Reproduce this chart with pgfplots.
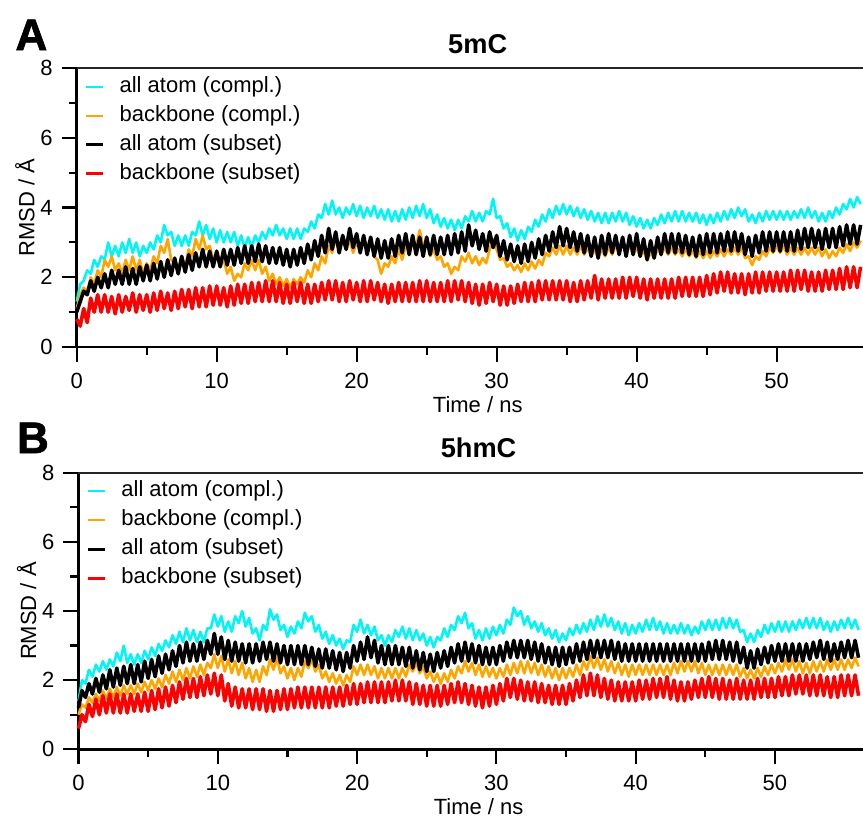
\documentclass[border=0pt]{standalone}
\usepackage{fontspec}
\setmainfont{Liberation Sans}
\newfontfamily\heavyfont{Liberation Sans Bold}[FakeBold=1.6]
\usepackage{pgfplots}
\usepackage{pgfplotstable}
\pgfplotsset{compat=1.18}

\definecolor{cyanc}{RGB}{0,245,245}
\definecolor{orangec}{RGB}{255,165,0}
\definecolor{redc}{RGB}{255,0,0}

% columns: t = time (ns), c = all atom (compl.), o = backbone (compl.),
% k = all atom (subset), r = backbone (subset)
\pgfplotstableread{
t c o k r
0 1.3 1.1 1.0 0.8
0.25 1.8 1.5 1.3 0.6
0.5 1.9 1.7 1.6 1.1
0.75 2.2 1.6 1.5 0.7
1 2.1 2.0 1.9 1.4
1.25 2.5 1.8 1.6 1.0
1.5 2.3 2.2 2.0 1.5
1.75 2.6 2.0 1.7 1.0
2 2.5 2.5 2.1 1.5
2.25 3.0 2.3 1.7 1.0
2.5 2.6 2.6 2.2 1.45
2.75 2.9 2.2 1.8 0.95
3 2.6 2.4 2.2 1.5
3.25 3.0 2.1 1.8 1.0
3.5 2.7 2.5 2.3 1.45
3.75 3.1 2.2 1.8 1.05
4 2.7 2.6 2.25 1.55
4.25 3.0 2.2 1.8 1.0
4.5 2.6 2.5 2.3 1.5
4.75 2.9 2.1 1.9 1.05
5 2.7 2.4 2.35 1.5
5.25 3.0 2.2 1.9 1.0
5.5 2.8 2.6 2.4 1.55
5.75 3.2 2.4 1.95 1.05
6 3.0 2.9 2.45 1.6
6.25 3.5 2.7 2.0 1.1
6.5 3.2 3.1 2.5 1.55
6.75 3.3 2.5 2.05 1.05
7 2.9 2.4 2.55 1.6
7.25 3.2 2.1 2.1 1.1
7.5 2.9 2.6 2.6 1.65
7.75 3.2 2.3 2.15 1.15
8 2.9 2.8 2.65 1.65
8.25 3.3 2.6 2.2 1.1
8.5 3.2 3.1 2.7 1.7
8.75 3.6 2.8 2.3 1.15
9 3.2 3.2 2.8 1.7
9.25 3.5 2.8 2.3 1.15
9.5 3.1 2.9 2.75 1.75
9.75 3.4 2.5 2.3 1.2
10 3.0 2.7 2.75 1.75
10.25 3.35 2.3 2.3 1.2
10.5 3.0 2.5 2.8 1.7
10.75 3.3 2.1 2.35 1.15
11 3.0 2.3 2.8 1.75
11.25 3.3 1.9 2.35 1.2
11.5 2.9 2.1 2.85 1.8
11.75 3.2 2.0 2.4 1.25
12 2.85 2.4 2.9 1.8
12.25 3.15 2.2 2.4 1.25
12.5 2.85 2.5 2.9 1.85
12.75 3.2 2.2 2.45 1.3
13 3.0 2.5 2.95 1.85
13.25 3.3 2.1 2.45 1.3
13.5 3.1 2.3 2.9 1.9
13.75 3.4 1.9 2.4 1.3
14 3.2 2.1 2.85 1.9
14.25 3.5 1.8 2.4 1.3
14.5 3.2 2.0 2.85 1.85
14.75 3.4 1.75 2.35 1.25
15 3.1 1.95 2.8 1.8
15.25 3.4 1.7 2.3 1.25
15.5 3.1 1.95 2.8 1.85
15.75 3.4 1.8 2.35 1.3
16 3.1 2.0 2.85 1.85
16.25 3.4 1.85 2.4 1.25
16.5 3.3 2.2 2.95 1.8
16.75 3.6 2.0 2.5 1.25
17 3.4 2.4 3.05 1.8
17.25 3.8 2.2 2.6 1.3
17.5 3.7 2.6 3.2 1.85
17.75 4.1 2.4 2.7 1.35
18 3.8 2.9 3.4 1.9
18.25 4.2 2.7 2.8 1.35
18.5 3.8 3.1 3.3 1.9
18.75 4.0 2.8 2.7 1.3
19 3.7 3.0 3.2 1.85
19.25 4.0 2.8 2.8 1.3
19.5 3.8 3.05 3.4 1.9
19.75 4.1 2.7 2.85 1.35
20 3.75 3.0 3.25 1.85
20.25 4.05 2.75 2.7 1.3
20.5 3.7 3.1 3.2 1.9
20.75 4.0 2.9 2.65 1.3
21 3.75 3.1 3.15 1.9
21.25 4.05 2.6 2.6 1.35
21.5 3.7 2.5 3.1 1.85
21.75 3.95 2.1 2.55 1.3
22 3.65 2.4 3.05 1.8
22.25 3.95 2.3 2.55 1.25
22.5 3.6 2.6 3.1 1.8
22.75 3.9 2.4 2.6 1.3
23 3.6 2.8 3.2 1.85
23.25 3.95 2.5 2.7 1.3
23.5 3.65 2.9 3.25 1.85
23.75 4.0 2.7 2.65 1.3
24 3.7 3.1 3.2 1.85
24.25 4.05 2.9 2.65 1.3
24.5 3.75 3.35 3.15 1.9
24.75 4.1 2.9 2.6 1.3
25 3.7 3.0 3.15 1.9
25.25 3.95 2.6 2.65 1.3
25.5 3.55 2.8 3.2 1.85
25.75 3.8 2.5 2.65 1.3
26 3.45 2.6 3.15 1.85
26.25 3.7 2.3 2.65 1.3
26.5 3.4 2.4 3.2 1.9
26.75 3.65 2.1 2.65 1.3
27 3.35 2.3 3.25 1.9
27.25 3.65 2.2 2.7 1.35
27.5 3.4 2.6 3.3 1.9
27.75 3.75 2.45 2.75 1.3
28 3.6 2.7 3.5 1.85
28.25 3.9 2.4 2.9 1.25
28.5 3.6 2.6 3.35 1.8
28.75 3.85 2.35 2.8 1.2
29 3.6 2.55 3.25 1.8
29.25 3.9 2.4 2.75 1.25
29.5 3.8 2.8 3.3 1.85
29.75 4.25 3.1 2.85 1.3
30 3.7 2.8 3.2 1.8
30.25 3.75 2.5 2.6 1.2
30.5 3.4 2.55 3.05 1.75
30.75 3.55 2.3 2.5 1.2
31 3.15 2.4 2.95 1.75
31.25 3.4 2.2 2.45 1.25
31.5 3.05 2.35 2.9 1.8
31.75 3.35 2.15 2.4 1.3
32 3.1 2.4 2.95 1.85
32.25 3.45 2.2 2.45 1.3
32.5 3.3 2.45 3.0 1.85
32.75 3.65 2.25 2.55 1.3
33 3.45 2.5 3.1 1.9
33.25 3.8 2.35 2.65 1.35
33.5 3.6 2.7 3.2 1.9
33.75 3.95 2.6 2.75 1.35
34 3.7 2.85 3.3 1.9
34.25 4.05 2.65 2.85 1.35
34.5 3.8 2.9 3.45 1.9
34.75 4.1 2.65 2.9 1.35
35 3.8 2.9 3.4 1.9
35.25 4.05 2.65 2.85 1.3
35.5 3.75 2.85 3.3 1.85
35.75 4.0 2.65 2.75 1.3
36 3.7 2.9 3.25 1.9
36.25 3.95 2.65 2.7 1.35
36.5 3.65 2.85 3.2 1.9
36.75 3.9 2.6 2.6 1.4
37 3.6 2.8 3.15 2.05
37.25 3.85 2.55 2.55 1.35
37.5 3.55 2.8 3.2 1.95
37.75 3.85 2.6 2.65 1.4
38 3.55 2.85 3.25 1.95
38.25 3.85 2.65 2.7 1.4
38.5 3.6 2.9 3.2 1.95
38.75 3.9 2.7 2.65 1.4
39 3.6 2.95 3.15 2.0
39.25 3.85 2.7 2.6 1.4
39.5 3.5 2.9 3.2 2.0
39.75 3.75 2.65 2.65 1.45
40 3.45 2.85 3.25 2.0
40.25 3.7 2.6 2.6 1.4
40.5 3.4 2.75 3.1 1.95
40.75 3.65 2.5 2.5 1.35
41 3.4 2.7 3.05 1.95
41.25 3.7 2.55 2.55 1.4
41.5 3.5 2.8 3.15 1.95
41.75 3.8 2.65 2.65 1.4
42 3.55 2.85 3.25 1.95
42.25 3.85 2.65 2.7 1.4
42.5 3.6 2.85 3.25 1.95
42.75 3.9 2.65 2.7 1.4
43 3.6 2.8 3.25 2.0
43.25 3.9 2.6 2.7 1.45
43.5 3.6 2.8 3.2 2.0
43.75 3.85 2.6 2.65 1.45
44 3.6 2.75 3.15 2.0
44.25 3.85 2.55 2.6 1.45
44.5 3.55 2.75 3.2 2.0
44.75 3.8 2.55 2.65 1.45
45 3.5 2.75 3.25 2.05
45.25 3.8 2.55 2.7 1.5
45.5 3.55 2.75 3.25 2.1
45.75 3.85 2.6 2.7 1.55
46 3.6 2.8 3.25 2.15
46.25 3.9 2.6 2.75 1.6
46.5 3.65 2.8 3.3 2.15
46.75 3.95 2.65 2.75 1.55
47 3.7 2.85 3.3 2.1
47.25 4.0 2.65 2.75 1.55
47.5 3.75 2.85 3.25 2.1
47.75 3.95 2.55 2.65 1.5
48 3.6 2.6 3.15 2.1
48.25 3.8 2.35 2.6 1.55
48.5 3.55 2.6 3.2 2.15
48.75 3.85 2.5 2.7 1.55
49 3.6 2.75 3.3 2.15
49.25 3.9 2.6 2.75 1.6
49.5 3.65 2.85 3.3 2.15
49.75 3.9 2.7 2.75 1.6
50 3.65 2.9 3.3 2.15
50.25 3.9 2.7 2.75 1.6
50.5 3.65 2.9 3.3 2.15
50.75 3.9 2.65 2.75 1.6
51 3.65 2.85 3.3 2.2
51.25 3.9 2.65 2.75 1.6
51.5 3.7 2.85 3.35 2.2
51.75 3.95 2.65 2.8 1.65
52 3.7 2.85 3.4 2.2
52.25 4.0 2.65 2.85 1.6
52.5 3.7 2.85 3.4 2.15
52.75 3.9 2.65 2.85 1.6
53 3.6 2.85 3.35 2.15
53.25 3.85 2.6 2.8 1.6
53.5 3.6 2.8 3.4 2.2
53.75 3.9 2.55 2.85 1.65
54 3.7 2.75 3.4 2.2
54.25 4.0 2.6 2.85 1.65
54.5 3.8 2.85 3.45 2.25
54.75 4.1 2.7 2.9 1.65
55 3.95 2.95 3.5 2.3
55.25 4.25 2.75 2.95 1.7
55.5 4.0 3.0 3.5 2.3
55.75 4.3 2.85 2.95 1.7
56 4.1 3.05 3.5 2.3
}\rmsdA

\pgfplotstableread{
t c o k r
0 1.4 1.0 1.2 0.6
0.25 2.0 1.3 1.7 1.0
0.5 1.9 1.2 1.5 0.8
0.75 2.3 1.5 1.9 1.3
1 2.1 1.35 1.6 0.95
1.25 2.45 1.6 2.05 1.45
1.5 2.25 1.4 1.65 1.0
1.75 2.55 1.7 2.15 1.55
2 2.3 1.45 1.75 1.05
2.25 2.6 1.75 2.3 1.6
2.5 2.4 1.5 1.8 1.05
2.75 2.8 1.8 2.35 1.6
3 2.55 1.55 1.85 1.05
3.25 3.0 1.85 2.4 1.6
3.5 2.5 1.6 1.9 1.05
3.75 2.75 1.85 2.45 1.6
4 2.45 1.6 1.9 1.1
4.25 2.75 1.9 2.45 1.6
4.5 2.5 1.65 1.95 1.1
4.75 2.85 1.95 2.55 1.65
5 2.6 1.7 2.05 1.1
5.25 2.95 2.0 2.6 1.7
5.5 2.7 1.75 2.1 1.15
5.75 3.05 2.05 2.7 1.75
6 2.85 1.8 2.2 1.2
6.25 3.15 2.15 2.75 1.8
6.5 2.95 1.9 2.3 1.25
6.75 3.3 2.25 2.85 1.85
7 3.05 1.95 2.4 1.35
7.25 3.4 2.3 3.0 1.95
7.5 3.1 2.0 2.5 1.45
7.75 3.5 2.35 3.1 2.05
8 3.15 2.05 2.55 1.5
8.25 3.45 2.4 3.05 2.05
8.5 3.1 2.1 2.55 1.5
8.75 3.4 2.45 3.1 2.1
9 3.1 2.15 2.6 1.55
9.25 3.5 2.5 3.15 2.15
9.5 3.5 2.35 2.75 1.6
9.75 3.9 2.75 3.35 2.2
10 3.55 2.35 2.75 1.55
10.25 3.85 2.7 3.25 2.15
10.5 3.4 2.25 2.6 1.4
10.75 3.7 2.6 3.15 1.9
11 3.4 2.2 2.55 1.25
11.25 3.85 2.55 3.1 1.8
11.5 3.65 2.15 2.55 1.2
11.75 4.0 2.5 3.05 1.75
12 3.55 2.05 2.5 1.2
12.25 3.8 2.35 3.05 1.75
12.5 3.35 1.95 2.5 1.15
12.75 3.5 2.3 3.05 1.75
13 3.15 1.95 2.55 1.15
13.25 3.6 2.4 3.1 1.75
13.5 3.45 2.15 2.6 1.1
13.75 4.05 2.6 3.1 1.7
14 3.75 2.3 2.55 1.1
14.25 3.9 2.65 3.05 1.7
14.5 3.45 2.2 2.5 1.15
14.75 3.6 2.4 3.0 1.75
15 3.25 2.05 2.45 1.15
15.25 3.55 2.35 3.0 1.75
15.5 3.35 2.0 2.45 1.2
15.75 3.7 2.35 3.0 1.8
16 3.5 2.1 2.45 1.2
16.25 3.95 2.55 3.0 1.8
16.5 3.7 2.35 2.45 1.2
16.75 3.85 2.6 2.95 1.8
17 3.4 2.25 2.4 1.2
17.25 3.6 2.45 2.9 1.8
17.5 3.2 2.05 2.35 1.2
17.75 3.4 2.25 2.9 1.8
18 3.05 1.95 2.35 1.2
18.25 3.3 2.2 2.85 1.8
18.5 3.0 1.9 2.3 1.25
18.75 3.2 2.15 2.8 1.8
19 2.9 1.85 2.25 1.25
19.25 3.15 2.15 2.8 1.85
19.5 3.1 1.95 2.35 1.3
19.75 3.6 2.4 3.0 1.9
20 3.4 2.15 2.55 1.3
20.25 3.75 2.45 3.1 1.9
20.5 3.35 2.15 2.6 1.35
20.75 3.6 2.45 3.25 1.95
21 3.3 2.15 2.65 1.35
21.25 3.55 2.4 3.15 1.95
21.5 3.15 2.05 2.5 1.35
21.75 3.3 2.35 3.0 1.95
22 3.0 2.05 2.45 1.35
22.25 3.3 2.35 3.0 1.95
22.5 3.1 2.05 2.45 1.4
22.75 3.45 2.35 3.0 2.0
23 3.25 2.05 2.45 1.4
23.25 3.55 2.35 2.95 2.0
23.5 3.2 2.1 2.4 1.4
23.75 3.5 2.45 2.95 1.95
24 3.15 2.25 2.35 1.3
24.25 3.45 2.5 2.85 1.9
24.5 3.15 2.2 2.3 1.3
24.75 3.35 2.4 2.8 1.85
25 3.0 2.05 2.25 1.25
25.25 3.25 2.25 2.75 1.85
25.5 2.95 1.95 2.25 1.25
25.75 3.25 2.2 2.8 1.85
26 3.15 1.9 2.35 1.25
26.25 3.5 2.2 2.85 1.85
26.5 3.25 1.95 2.4 1.3
26.75 3.6 2.3 2.95 1.9
27 3.45 2.05 2.5 1.35
27.25 3.85 2.4 3.05 1.95
27.5 3.65 2.2 2.55 1.35
27.75 3.95 2.55 3.1 1.9
28 3.5 2.25 2.55 1.3
28.25 3.65 2.5 3.05 1.85
28.5 3.2 2.15 2.5 1.25
28.75 3.45 2.45 3.0 1.8
29 3.15 2.1 2.45 1.2
29.25 3.5 2.4 2.95 1.8
29.5 3.2 2.1 2.45 1.25
29.75 3.55 2.35 2.95 1.85
30 3.3 2.05 2.45 1.3
30.25 3.6 2.35 3.0 1.9
30.5 3.35 2.1 2.55 1.4
30.75 3.75 2.45 3.1 2.05
31 3.6 2.15 2.65 1.5
31.25 4.1 2.5 3.15 2.05
31.5 3.85 2.2 2.65 1.45
31.75 4.0 2.55 3.15 2.0
32 3.6 2.2 2.65 1.4
32.25 3.85 2.55 3.15 1.95
32.5 3.5 2.2 2.6 1.4
32.75 3.7 2.5 3.1 1.95
33 3.4 2.15 2.55 1.35
33.25 3.65 2.45 3.05 1.9
33.5 3.3 2.1 2.5 1.35
33.75 3.5 2.4 2.95 1.85
34 3.2 2.05 2.45 1.3
34.25 3.45 2.35 2.95 1.85
34.5 3.1 2.0 2.4 1.3
34.75 3.35 2.35 2.95 1.85
35 3.15 2.05 2.45 1.3
35.25 3.5 2.35 2.95 1.9
35.5 3.3 2.1 2.5 1.4
35.75 3.6 2.45 3.05 2.0
36 3.35 2.15 2.55 1.5
36.25 3.65 2.55 3.1 2.15
36.5 3.4 2.3 2.6 1.55
36.75 3.75 2.7 3.15 2.2
37 3.45 2.35 2.65 1.55
37.25 3.85 2.65 3.15 2.15
37.5 3.55 2.3 2.65 1.5
37.75 3.9 2.6 3.15 2.05
38 3.55 2.25 2.65 1.45
38.25 3.8 2.55 3.15 2.0
38.5 3.45 2.2 2.6 1.4
38.75 3.7 2.5 3.1 1.95
39 3.35 2.15 2.55 1.4
39.25 3.65 2.45 3.05 1.95
39.5 3.3 2.1 2.55 1.4
39.75 3.6 2.45 3.05 1.95
40 3.35 2.15 2.55 1.4
40.25 3.65 2.45 3.05 2.0
40.5 3.4 2.15 2.55 1.45
40.75 3.75 2.45 3.05 2.0
41 3.45 2.15 2.55 1.45
41.25 3.8 2.45 3.05 2.05
41.5 3.45 2.15 2.55 1.5
41.75 3.7 2.45 3.05 2.05
42 3.35 2.15 2.55 1.5
42.25 3.65 2.45 3.05 2.1
42.5 3.35 2.15 2.55 1.45
42.75 3.6 2.5 3.05 2.0
43 3.35 2.2 2.55 1.4
43.25 3.65 2.55 3.05 1.95
43.5 3.35 2.25 2.55 1.4
43.75 3.6 2.55 3.05 1.95
44 3.3 2.25 2.55 1.45
44.25 3.55 2.55 3.05 2.0
44.5 3.35 2.2 2.55 1.5
44.75 3.7 2.5 3.05 2.05
45 3.45 2.15 2.55 1.5
45.25 3.75 2.45 3.1 2.1
45.5 3.45 2.15 2.6 1.5
45.75 3.75 2.45 3.15 2.05
46 3.45 2.15 2.6 1.45
46.25 3.8 2.45 3.15 2.05
46.5 3.5 2.15 2.6 1.45
46.75 3.8 2.45 3.1 2.0
47 3.5 2.15 2.55 1.45
47.25 3.75 2.45 3.1 2.05
47.5 3.4 2.1 2.5 1.45
47.75 3.45 2.35 2.95 2.0
48 3.1 2.05 2.35 1.45
48.25 3.35 2.3 2.85 2.0
48.5 3.1 2.05 2.35 1.45
48.75 3.45 2.35 2.9 2.05
49 3.25 2.1 2.45 1.5
49.25 3.6 2.4 2.95 2.05
49.5 3.35 2.15 2.5 1.5
49.75 3.65 2.45 3.0 2.05
50 3.4 2.2 2.55 1.5
50.25 3.7 2.5 3.05 2.1
50.5 3.4 2.25 2.55 1.55
50.75 3.7 2.6 3.05 2.1
51 3.4 2.3 2.55 1.55
51.25 3.7 2.6 3.05 2.15
51.5 3.45 2.25 2.55 1.6
51.75 3.75 2.55 3.05 2.15
52 3.5 2.2 2.55 1.6
52.25 3.8 2.5 3.05 2.15
52.5 3.5 2.2 2.6 1.55
52.75 3.8 2.55 3.1 2.15
53 3.5 2.25 2.65 1.55
53.25 3.8 2.55 3.15 2.15
53.5 3.45 2.25 2.6 1.55
53.75 3.7 2.6 3.1 2.1
54 3.4 2.3 2.55 1.5
54.25 3.7 2.6 3.05 2.1
54.5 3.45 2.3 2.6 1.5
54.75 3.75 2.6 3.1 2.15
55 3.5 2.3 2.65 1.55
55.25 3.8 2.6 3.15 2.15
55.5 3.5 2.35 2.65 1.55
55.75 3.75 2.65 3.15 2.15
56 3.45 2.4 2.65 1.55
}\rmsdB

\pgfplotsset{
  rmsd/.style={
    scale only axis,
    ymin=0, ymax=8, xmin=0,
    clip=false,
    axis lines*=left,
    axis line style={-, line width=1.4pt},
    tick align=outside,
    tick pos=left,
    xtick={0,10,...,50},
    ytick={0,2,4,6,8},
    minor tick num=1,
    major tick length=7.5pt,
    minor tick length=4pt,
    every tick/.append style={line width=1.1pt, black},
    /pgf/number format/assume math mode=true,
    tick label style={font=\fontsize{11}{13}\selectfont},
    xticklabel style={yshift=-2pt},
    yticklabel style={xshift=-1pt},
    label style={font=\fontsize{11}{13}\selectfont},
    xlabel={Time / ns},
    ylabel={RMSD / Å},
    xlabel style={at={([yshift=-32.5pt]axis description cs:0.51,0)}, anchor=base},
    ylabel style={at={([xshift=-25.9pt]axis description cs:0,0.5)}, anchor=center},
    every axis title shift=0pt,
    title style={at={([yshift=7.5pt]axis description cs:0.51,1)}, anchor=base,
      font=\fontsize{13.6}{16}\selectfont\bfseries},
    legend style={draw=none, fill=none,
      at={([xshift=4.15pt,yshift=-4.1pt]axis description cs:0,1)},
      anchor=north west, inner sep=0pt, outer sep=0pt,
      row sep=4.1pt, column sep=7.5pt,
      font=\fontsize{11}{13}\selectfont,
      nodes={inner sep=0pt, text height=8pt, text depth=2.4pt}},
    legend cell align=left,
    legend image code/.code={\draw[#1] (0pt,0pt) -- (8.5pt,0pt);},
    every axis plot/.append style={no markers, line join=round, forget plot},
  }
}

\begin{document}
\begin{tikzpicture}
\begin{axis}[rmsd,
    at={(0pt,0pt)}, anchor=south west,
    width=393.15pt, height=139.5pt, xmax=56.17,
    title={5mC}]
\addplot[cyanc, line width=1.3pt] table[x=t, y=c] {\rmsdA};
\addplot[orangec, line width=1.3pt] table[x=t, y=o] {\rmsdA};
\addplot[black, line width=1.8pt] table[x=t, y=k] {\rmsdA};
\addplot[redc, line width=1.8pt] table[x=t, y=r] {\rmsdA};
\addlegendimage{cyanc, line width=1.0pt}
\addlegendimage{orangec, line width=1.0pt}
\addlegendimage{black, line width=1.3pt}
\addlegendimage{redc, line width=1.3pt}
\legend{all atom (compl.), backbone (compl.), all atom (subset), backbone (subset)}
\draw[line width=0.8pt, black!85] (rel axis cs:0,1) -- (rel axis cs:1,1);
\end{axis}

\begin{axis}[rmsd,
    at={(0.9pt,-201.15pt)}, anchor=south west,
    width=392.25pt, height=138.3pt, xmax=56.32,
    title={5hmC}]
\addplot[cyanc, line width=1.3pt] table[x=t, y=c] {\rmsdB};
\addplot[orangec, line width=1.3pt] table[x=t, y=o] {\rmsdB};
\addplot[black, line width=1.8pt] table[x=t, y=k] {\rmsdB};
\addplot[redc, line width=1.8pt] table[x=t, y=r] {\rmsdB};
\addlegendimage{cyanc, line width=1.0pt}
\addlegendimage{orangec, line width=1.0pt}
\addlegendimage{black, line width=1.3pt}
\addlegendimage{redc, line width=1.3pt}
\legend{all atom (compl.), backbone (compl.), all atom (subset), backbone (subset)}
\draw[line width=0.8pt, black!85] (rel axis cs:0,1) -- (rel axis cs:1,1);
\end{axis}

\node[anchor=base west, inner sep=0pt, font=\fontsize{22}{24}\selectfont\heavyfont] at (-30.8pt,148.5pt) {A};
\node[anchor=base west, inner sep=0pt, font=\fontsize{22}{24}\selectfont\heavyfont] at (-30.0pt,-53pt) {B};

\pgfresetboundingbox
\useasboundingbox (-38.35pt,-234.5pt) rectangle (393.15pt,173.5pt);
\end{tikzpicture}
\end{document}
